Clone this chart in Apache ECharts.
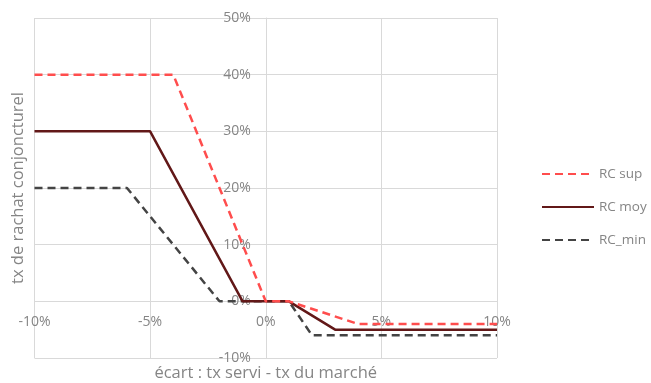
<!DOCTYPE html>
<html>
<head>
<meta charset="utf-8">
<script src="https://cdn.jsdelivr.net/npm/echarts@6/dist/echarts.min.js"></script>
<style>html,body{margin:0;padding:0;background:#fff}#c{width:651px;height:383px}</style>
</head>
<body>
<div id="c"></div>
<script>
// x: écart (%), y: tx de rachat (%)
const rcSupX = [-10, -4, 0, 1, 4, 10];
const rcSupY = [40, 40, 0, 0, -4, -4];
const rcMoyX = [-10, -5, -1, 1, 3, 10];
const rcMoyY = [30, 30, 0, 0, -5, -5];
const rcMinX = [-10, -6, -2, 1, 2, 10];
const rcMinY = [20, 20, 0, 0, -6, -6];
const seriesNames = ['RC sup', 'RC moy', 'RC_min'];
const xTitle = 'écart : tx servi - tx du marché';
const yTitle = 'tx de rachat conjoncturel';

const pair = (xs, ys) => xs.map((x, i) => [x, ys[i]]);
const font = '"Open Sans", "Liberation Sans", sans-serif';
const gray = '#858585';
const G = {left: 34.5, right: 154, top: 18, bottom: 25};

const chart = echarts.init(document.getElementById('c'), null, {renderer: 'canvas'});
const option = {
  animation: false,
  grid: Object.assign({containLabel: false, outerBoundsMode: 'none'}, G),
  legend: {
    orient: 'vertical', left: 536, top: 162,
    itemWidth: 52, itemHeight: 12, itemGap: 19,
    itemStyle: {opacity: 0},
    textStyle: {color: gray, fontSize: 13.5, fontFamily: font},
    data: seriesNames
  },
  xAxis: {
    type: 'value', min: -10, max: 10, interval: 5, offset: 0,
    axisLine: {onZero: false, lineStyle: {color: '#d9d9d9', width: 1}},
    axisTick: {show: false},
    splitLine: {show: true, lineStyle: {color: '#d9d9d9', width: 1}},
    axisLabel: {formatter: '{value}%', color: gray, fontSize: 14, fontFamily: font, margin: 14},
    name: xTitle, nameLocation: 'middle', nameGap: 63,
    nameTextStyle: {color: gray, fontSize: 16.5, fontFamily: font}
  },
  yAxis: {
    type: 'value', min: -10, max: 50, interval: 10, offset: 0,
    axisLine: {onZero: false, lineStyle: {color: '#d9d9d9', width: 1}},
    axisTick: {show: false},
    splitLine: {show: true, lineStyle: {color: '#d9d9d9', width: 1}},
    axisLabel: {formatter: '{value}%', color: gray, fontSize: 14, fontFamily: font, margin: 15},
    name: yTitle, nameLocation: 'middle', nameGap: 239,
    nameTextStyle: {color: gray, fontSize: 16.5, fontFamily: font}
  },
  series: [
    {name: seriesNames[0], type: 'line', symbol: 'none', data: pair(rcSupX, rcSupY),
     lineStyle: {color: '#ff4d4d', width: 2.5, type: [8, 5]}, itemStyle: {color: '#ff4d4d'}, z: 3},
    {name: seriesNames[1], type: 'line', symbol: 'none', data: pair(rcMoyX, rcMoyY),
     lineStyle: {color: '#621818', width: 2.5}, itemStyle: {color: '#621818'}, z: 2},
    {name: seriesNames[2], type: 'line', symbol: 'none', data: pair(rcMinX, rcMinY),
     lineStyle: {color: '#444444', width: 2.5, type: [8, 5]}, itemStyle: {color: '#444444'}, z: 1}
  ]
};
chart.setOption(option);
// move both axes so they cross at the origin (0, 0)
const origin = chart.convertToPixel({gridIndex: 0}, [0, 0]);
const bottomY = 383 - G.bottom;
chart.setOption({
  xAxis: {offset: origin[1] - bottomY},
  yAxis: {offset: G.left - origin[0]}
});
</script>
</body>
</html>
